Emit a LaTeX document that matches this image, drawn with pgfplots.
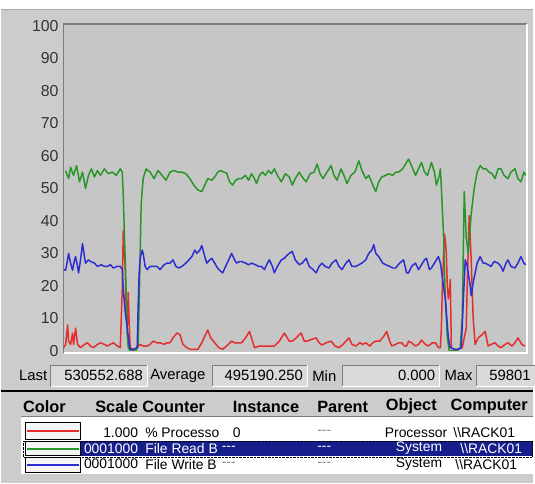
\documentclass[border=0pt]{standalone}
\usepackage{pgfplots}
\pgfplotsset{compat=1.18}
\usepackage{fontspec}
\setmainfont{Liberation Sans}

\definecolor{wingray}{RGB}{204,204,204}
\definecolor{plotbg}{RGB}{198,198,198}
\definecolor{boxbg}{RGB}{218,218,218}
\definecolor{navy}{RGB}{22,30,140}
\definecolor{pmgreen}{RGB}{40,150,40}
\definecolor{pmblue}{RGB}{45,45,210}
\definecolor{pmred}{RGB}{228,45,45}
\definecolor{edge}{RGB}{125,125,125}

\newcommand\ff{\fontsize{15}{15}\selectfont}
\newcommand\fh{\fontsize{16.5}{16.5}\selectfont\bfseries}
\newcommand\fr{\fontsize{14}{14}\selectfont}
% sunken field: x1 y1 x2 y2
\newcommand\sunk[4]{%
  \fill[boxbg] (#1,#2) rectangle (#3,#4);
  \draw[edge] (#1,#2) -- (#1,#4) -- (#3,#4);
  \draw[white] (#1,#2) -- (#3,#2) -- (#3,#4);}
% colour swatch: y1 y2 ymid colour
\newcommand\swatch[4]{%
  \filldraw[fill=gray!8, draw=black, line width=1.2bp] (25,#1) rectangle (80,#2);
  \draw[#4, line width=1.8bp] (26.5,#3) -- (78.5,#3);}
\newcommand\dashes{-{}-{}-}
\newcommand\rack{\textbackslash\textbackslash RACK01}

\begin{document}
\begin{tikzpicture}[x=1bp,y=1bp]
% screen row r  ->  y = 486 - r
\fill[wingray] (0,0) rectangle (535,486);
\fill[white] (0,477) rectangle (535,486);
\draw[gray!70, line width=1bp] (0,476.5) -- (535,476.5);
\fill[plotbg] (63,131) rectangle (529,462);
\draw[edge, line width=1.5bp] (63,131) -- (63,462) -- (529,462);
\draw[white, line width=1.5bp] (63,131) -- (529,131) -- (529,462);

\begin{axis}[
    at={(63bp,133bp)}, anchor=south west,
    width=466bp, height=327bp, scale only axis,
    xmin=63, xmax=529, ymin=0, ymax=100,
    axis line style={draw=none},
    xtick=\empty, ytick={0,10,...,100},
    major tick length=0pt,
    /pgf/number format/assume math mode=true,
    yticklabel style={font=\fontsize{16}{16}\selectfont, text=black!80, inner sep=0pt, xshift=-5bp},
    every axis plot/.append style={line width=1.5bp, line join=round},
]
% % Processor time
\addplot[pmred] coordinates {
(63,1)(65,2)(67,8)(68,3)(70,2)(72,5.5)(73,2)(75,7)(77,2)(80,1)(84,2)(87,2.5)(90,1.5)(93,1)(97,2)(100,2.5)(104,2)(107,1.5)(110,2)(113,2.5)(117,1.5)(120,1)
(122,19)(123,37)(124,32)(125,25)(126,12)(127,8)(128,18)(129,8)(130,1)(133,0.5)(137,1)(140,2)(143,1.5)(147,1.5)(150,2)(153,3)(157,2.5)(160,2.5)(164,2)(167,2.5)(170,2.5)(173,4)(177,5.5)(180,5)(183,2)(187,1)(190,0.5)(194,0.5)(198,0.5)
(202,2.5)(205,4.5)(208,6.4)(211,4)(215,2.5)(219,1)(223,0.5)(227,1.5)(232,3)(235,2.5)(238,2.5)(242,2.5)(246,4)(250,6)(253,3)(255,1)(260,1.5)(265,1.5)(270,1.5)(275,1.5)(280,3)(285,5.5)(288,4)(290,3)(293,3)(297,4)
(300,5)(302,5.5)(305,3)(308,3)(312,3.5)(317,4)(320,2.5)(323,1.8)(327,2.5)(332,3)(336,1.5)(340,1)(344,2)(347,3)(350,4)(353,2)(357,1.5)(361,2.5)(364,2)(367,2.5)(371,1.5)(374,2.5)(377,3)(381,3)(385,4.5)(388,6)(391,3)(393,1.5)(397,2)
(400,2.5)(403,2.5)(406,1.5)(408,1.5)(410,3)(413,2.5)(417,1.5)(420,2)(423,3.3)(427,2)(430,1.5)(434,2.5)(437,2.5)(440,1)(442,1)(443,7)(444,20)(446,36)(447,34)(448,30)(449,20)(450,16)(451,18)(452,22)(453,1)(456,0.5)(460,0.5)(464,1)(466,4)(468,7)
(469,20)(471,41.6)(472,35)(473,28)(475,10)(477,2)(480,4)(484,5)(487,6)(490,1.5)(493,2)(497,2.5)(500,1.5)(503,1)(507,2)(510,2.5)(514,1.5)(517,2.5)(520,4)(524,2)(527,1.5)
};
% File Read Bytes/sec
\addplot[pmgreen] coordinates {
(65,55.4)(68,53)(70,56.5)(73,54)(76,57)(79,52)(82,55)(85,50)(88,54)(91,56)(94,53.5)(97,55.5)(100,54)(104,56)(108,54.5)(112,55)(116,54)(120,56)(122,55)
(123,48)(124,37)(125,28)(126,17)(127,5)(128,1)(130,0)(133,0)(136,0)(138,2)(139,15)(140,30)(141,45)(143,53)(146,56)(150,55)(154,53)(158,55.5)(162,54)(166,52.5)(170,55)(174,55.5)(178,55)(182,55)(186,54.5)(190,53)(194,51)(198,49.5)
(202,49)(205,51)(208,53)(212,52.5)(215,53.5)(218,55)(221,55.5)(224,55)(227,54.7)(230,52)(233,51)(236,52.5)(239,53)(242,53)(246,54)(249,52.5)(252,54.5)(255,53)(257,51.5)(260,54)(263,55)(266,54)(269,55.5)(272,54.5)(275,56)(278,54)(282,52)(286,54.5)(290,53.5)(293,51)(296,53)
(300,55)(303,53.5)(307,52)(311,54.5)(315,55)(318,57.5)(321,54.5)(324,53)(328,55)(332,57)(335,54)(338,52.5)(342,56)(345,54)(348,51.5)(352,54)(356,55)(360,58.5)(363,55.5)(367,53)(370,54)(374,51)(377,49)(380,52)(383,53.5)(387,54)(390,54.5)(394,54)(397,55)
(400,55)(404,56)(408,58)(410,59)(413,57)(417,54)(420,56)(423,58)(426,55)(429,54)(433,58)(436,55)(438,51)(441,54)(442,56)(443,50)(445,37)(447,16)(449,4)(451,0)(455,0)(459,0)(462,1)
(464,10)(466,49)(468,35)(470,30)(473,42)(476,50)(479,55)(482,57)(485,56)(488,56)(491,55)(494,54.5)(497,53)(500,56)(503,56)(506,54)(510,53)(513,55)(517,56)(520,53)(523,52)(526,55)(528,54)
};
% File Write Bytes/sec
\addplot[pmblue] coordinates {
(63,25)(65,24.8)(67,28)(68,30)(70,27)(72,24.8)(74,28)(75,29)(77,26)(78,24)(80,28)(82,33)(84,29)(85,27)(88,28)(90,27.5)(94,27)(97,26)(101,26.5)(104,26)(107,26)(110,26.5)(113,25.5)(117,26)(120,26)(122,25)
(123,19)(125,12)(127,7)(129,2)(130,0.5)(134,0.5)(137,1)(138,14)(139,24)(140,28.5)(142,31)(143,30)(145,26)(147,25)(150,26)(154,26)(157,26)(160,25)(164,26.5)(167,27)(170,27)(173,28)(176,26)(179,25.5)(182,26)(186,27)(189,28)(192,29)(195,31)(197,30)
(200,31)(202,32.4)(205,29)(207,27)(210,28)(212,28.5)(215,27)(218,25.4)(221,24.5)(223,24)(226,26)(229,28)(232,30)(235,28)(237,27)(240,27.5)(242,27.5)(246,27)(249,26.5)(252,27)(256,26.5)(259,26)(262,26)(265,25)(268,27)(270,28)(273,26)(275,24)(278,26)(282,28)(285,28.5)(288,29.5)(290,30)(293,30.6)(296,28)
(300,26.5)(303,27)(307,28.5)(310,26)(314,25)(317,24)(320,26)(323,27)(326,26)(330,25.5)(333,27)(337,28)(340,26)(343,25)(347,27)(350,28)(353,26)(357,26)(360,26.5)(363,27)(367,28)(370,30)(373,31)(375,32.7)(377,30)(380,29)(384,27)(387,26.5)(391,26)(394,25.5)(397,25.5)
(401,27)(405,28)(408,24)(410,24)(413,26)(417,27)(420,25)(423,26.5)(426,28)(428,28.5)(431,25)(433,25.5)(436,27)(440,29)(442,27)(443,25)(445,20)(447,16)(449,8)(450,4)(452,1)(456,0.5)(460,0.5)(463,1)
(465,15)(467,28)(469,26)(470,24)(472,20)(473,17)(475,21)(477,24)(479,27)(482,29)(485,27)(487,27)(490,26.5)(493,26)(496,27.5)(500,27)(503,26)(505,24.5)(508,27)(510,28)(513,26)(517,25.5)(520,27)(523,29)(526,27)(528,26.5)
};
\end{axis}

% value bar
\node[anchor=west, font=\ff, inner sep=0pt] at (18,108) {Last};
\sunk{50}{97}{147}{119}
\node[anchor=east, font=\ff, inner sep=0pt] at (143,108) {530552.688};
\node[anchor=west, font=\ff, inner sep=0pt] at (150,108) {Average};
\sunk{212}{97}{308}{119}
\node[anchor=east, font=\ff, inner sep=0pt] at (304,108) {495190.250};
\node[anchor=west, font=\ff, inner sep=0pt] at (313,108) {Min};
\sunk{343}{97}{441}{119}
\node[anchor=east, font=\ff, inner sep=0pt] at (437,108) {0.000};
\node[anchor=west, font=\ff, inner sep=0pt] at (446,108) {Max};
\sunk{478}{97}{537}{119}
\node[anchor=east, font=\ff, inner sep=0pt] at (533,108) {59801};
\draw[black, line width=2bp] (0,93) -- (535,93);

% column headers
\node[anchor=west, font=\fh, inner sep=0pt] at (22,77) {Color};
\node[anchor=east, font=\fh, inner sep=0pt] at (138,77) {Scale};
\node[anchor=west, font=\fh, inner sep=0pt] at (142,77) {Counter};
\node[anchor=west, font=\fh, inner sep=0pt] at (233,77) {Instance};
\node[anchor=west, font=\fh, inner sep=0pt] at (318,77) {Parent};
\node[anchor=west, font=\fh, inner sep=0pt] at (387,77) {Object};
\node[anchor=west, font=\fh, inner sep=0pt] at (452,77) {Computer};
\draw[edge] (20,67.5) -- (535,67.5);

% counter list
\fill[white] (20,9) rectangle (535,67);
\fill[navy] (80,27) rectangle (535,42);
\draw[black, densely dotted] (22,26.5) rectangle (534.5,42.5);
\swatch{44}{61}{52.5}{pmred}
\swatch{27.5}{41.5}{34.5}{pmgreen}
\swatch{11}{26}{18.5}{pmblue}
\begin{scope}[every node/.style={font=\fr, inner sep=0pt}]
\node[anchor=east] at (138,51) {1.000};
\node[anchor=west] at (145,51) {\% Processo};
\node[anchor=west] at (233,51) {0};
\node[anchor=west, text=gray] at (318,51) {\dashes};
\node[anchor=west] at (386,51) {Processor};
\node[anchor=west] at (455,51) {\rack};
\node[anchor=east, text=white] at (138,35) {0001000};
\node[anchor=west, text=white] at (145,35) {File Read B};
\node[anchor=west, text=white] at (222,35) {\dashes};
\node[anchor=west, text=white] at (318,35) {\dashes};
\node[anchor=west, text=white] at (397,35) {System};
\node[anchor=west, text=white] at (462,35) {\rack};
\node[anchor=east] at (138,19) {0001000};
\node[anchor=west] at (145,19) {File Write B};
\node[anchor=west, text=gray] at (222,19) {\dashes};
\node[anchor=west, text=gray] at (318,19) {\dashes};
\node[anchor=west] at (397,19) {System};
\node[anchor=west] at (457,19) {\rack};
\end{scope}
\end{tikzpicture}
\end{document}
